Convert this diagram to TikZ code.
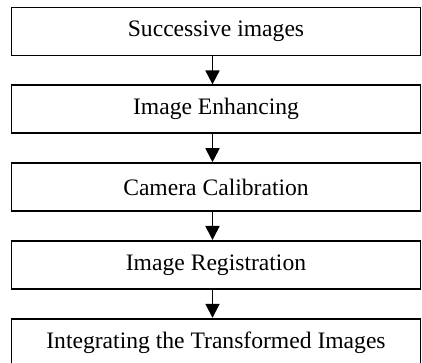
\documentclass[tikz,border=0pt]{standalone}
\usepackage{fontspec}
\setmainfont{Liberation Serif}
\usetikzlibrary{arrows.meta, positioning}

\begin{document}
\begin{tikzpicture}[>={Triangle[width=14pt,length=14pt]}, x=1pt, y=1pt,
  stagebox/.style={draw, line width=1.8pt, minimum width=409pt, minimum height=48pt,
    inner sep=0pt, font=\fontsize{23.6}{28}\selectfont},
  node distance=28pt]

\useasboundingbox (0,0) rectangle (422,363);

\node[stagebox] (succ) at (216,331.5) {Successive images};
\node[stagebox, below=of succ] (enh) {Image Enhancing};
\node[stagebox, below=of enh] (calib) {Camera Calibration};
\node[stagebox, below=of calib] (reg) {Image Registration};
\node[stagebox, below=of reg] (integ) {Integrating the Transformed Images};

\foreach \a/\b in {succ/enh, enh/calib, calib/reg, reg/integ}
  \draw[->, line width=1.8pt] ([xshift=-3.5pt]\a.south) -- ([xshift=-3.5pt]\b.north);

\end{tikzpicture}
\end{document}
